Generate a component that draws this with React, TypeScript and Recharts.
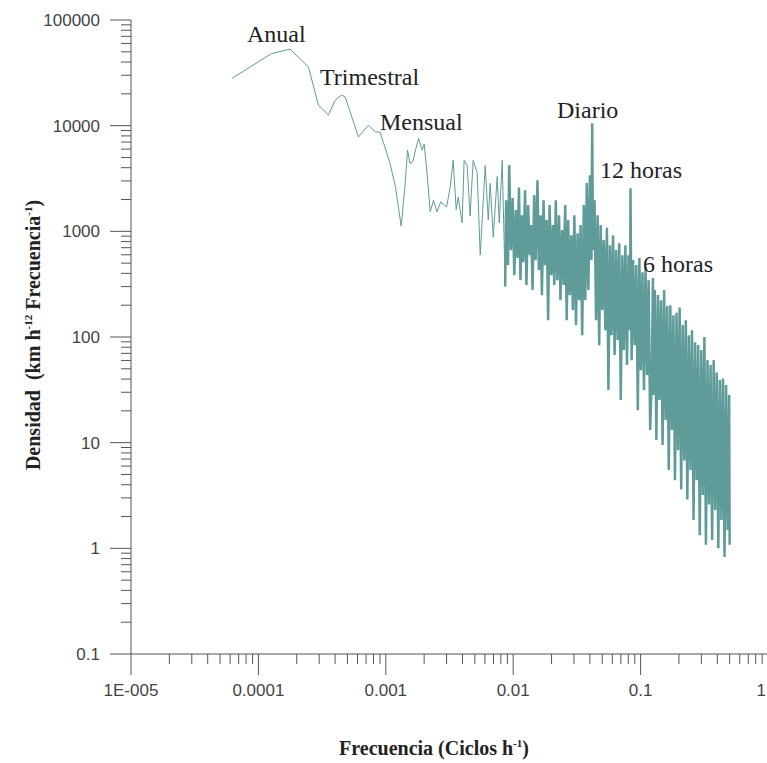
import React from 'react'
import { LineChart, Line, XAxis, YAxis } from 'recharts'

// espectro de baja frecuencia (curva suave)
const LOW_FREQ = [
  6.2e-5, 1.27e-4, 1.77e-4, 2.47e-4, 2.96e-4, 3.55e-4, 4.0e-4, 4.5e-4, 4.8e-4, 6.1e-4,
  7.3e-4, 8.3e-4, 9.0e-4, 1.0e-3, 1.08e-3, 1.19e-3, 1.32e-3, 1.42e-3, 1.48e-3, 1.55e-3,
  1.63e-3, 1.72e-3, 1.81e-3, 1.93e-3, 2.0e-3, 2.08e-3, 2.16e-3, 2.23e-3, 2.37e-3, 2.52e-3,
  2.7e-3, 3.0e-3, 3.2e-3, 3.38e-3, 3.57e-3, 3.7e-3, 3.97e-3, 4.12e-3, 4.35e-3, 4.59e-3,
  4.85e-3, 5.21e-3, 5.51e-3, 6.03e-3, 6.37e-3, 6.6e-3, 6.97e-3, 7.49e-3, 7.77e-3, 8.2e-3,
  8.65e-3,
]
const LOW_DENS = [
  28000, 48200, 53000, 36000, 15600, 12600, 17400, 19500, 18700, 7830,
  10100, 8720, 8700, 5900, 4390, 2640, 1120, 2840, 5860, 4390,
  4560, 6000, 7570, 5860, 6700, 4200, 2460, 1530, 1970, 1530,
  1900, 1700, 2600, 4700, 1600, 2100, 1200, 4700, 4200, 1400,
  4700, 3600, 595, 4200, 1280, 2850, 880, 3300, 1200, 4700,
  300,
]

// parte ruidosa de alta frecuencia
const HIGH_FREQ = [
  0.0088, 0.0091, 0.0093, 0.0096, 0.0099, 0.0102, 0.0105, 0.0108, 0.0111, 0.0114,
  0.0117, 0.012, 0.0124, 0.0127, 0.0131, 0.0135, 0.0138, 0.0142, 0.0146, 0.015,
  0.0155, 0.0159, 0.0164, 0.0168, 0.0173, 0.0178, 0.0183, 0.0188, 0.0193, 0.0199,
  0.0205, 0.021, 0.0216, 0.0222, 0.0229, 0.0235, 0.0242, 0.0249, 0.0256, 0.0263,
  0.027, 0.0278, 0.0286, 0.0294, 0.0302, 0.0311, 0.032, 0.0329, 0.0338, 0.0348,
  0.0358, 0.0368, 0.0378, 0.0389, 0.04, 0.0411, 0.0417, 0.0423, 0.0435, 0.0447,
  0.046, 0.0473, 0.0486, 0.05, 0.0514, 0.0529, 0.0544, 0.0559, 0.0575, 0.0591,
  0.0608, 0.0625, 0.0643, 0.0661, 0.068, 0.0699, 0.0719, 0.0739, 0.076, 0.0782,
  0.0804, 0.0827, 0.0833, 0.085, 0.0874, 0.0899, 0.0925, 0.0951, 0.0978, 0.1005,
  0.1034, 0.1063, 0.1093, 0.1124, 0.1156, 0.1189, 0.1223, 0.125, 0.1258, 0.1293,
  0.133, 0.1368, 0.1407, 0.1447, 0.1488, 0.153, 0.1573, 0.1618, 0.1664, 0.1711,
  0.176, 0.181, 0.1861, 0.1914, 0.1968, 0.2024, 0.2082, 0.2141, 0.2202, 0.2264,
  0.2328, 0.2394, 0.2462, 0.2532, 0.2604, 0.2678, 0.2754, 0.2832, 0.2912, 0.2995,
  0.308, 0.3167, 0.3257, 0.335, 0.3445, 0.3542, 0.3643, 0.3746, 0.3852, 0.3962,
  0.4074, 0.419, 0.4309, 0.4431, 0.4557, 0.4686, 0.4819, 0.4956, 0.5,
]
const HIGH_DENS = [
  1970, 479, 4230, 664, 2070, 385, 1590, 560, 2600, 345,
  1420, 510, 2450, 310, 1770, 595, 1150, 278, 2200, 534,
  3050, 430, 1420, 249, 1970, 479, 1280, 144, 1770, 385,
  1150, 310, 1970, 345, 1420, 223, 1030, 310, 1770, 144,
  1280, 249, 920, 180, 1420, 130, 960, 223, 1150, 104,
  1770, 223, 2860, 278, 3400, 534, 10560, 664, 1970, 144,
  1420, 83.8, 1150, 180, 826, 116, 1080, 31.5, 740, 104,
  920, 67.4, 664, 93.5, 770, 25.3, 595, 75.2, 740, 54.2,
  595, 116, 2560, 60.4, 534, 83.8, 479, 20.3, 560, 48.6,
  410, 31.5, 455, 43.6, 345, 13.2, 39.1, 361, 28.2, 278,
  10.6, 249, 25.3, 223, 9.5, 278, 16.4, 196, 5.5, 200,
  13.2, 161, 4.4, 170, 8.5, 190, 3.6, 130, 6.8, 144,
  2.9, 104, 5.5, 116, 1.85, 89, 4.4, 83.8, 1.33, 75.2,
  3.2, 100, 1.08, 60.4, 2.6, 54.2, 1.2, 60.4, 2.3, 46,
  1.0, 39.1, 1.85, 40.5, 0.83, 35.1, 1.49, 28.2, 1.08,
]

const X_TICKS = [1e-5, 1e-4, 1e-3, 1e-2, 1e-1, 1]
const X_LABELS = ['1E-005', '0.0001', '0.001', '0.01', '0.1', '1']
const Y_TICKS = [0.1, 1, 10, 100, 1000, 10000, 100000]
const Y_LABELS = ['0.1', '1', '10', '100', '1000', '10000', '100000']

const ANNOTATIONS = ['Anual', 'Trimestral', 'Mensual', 'Diario', '12 horas', '6 horas']
const ANNOTATION_POS = [
  [247, 42],
  [320, 85],
  [380, 130],
  [557, 118],
  [600, 178],
  [643, 272],
]

const lowData = LOW_FREQ.map((f, i) => ({ f, v: LOW_DENS[i] }))
const highData = [lowData[lowData.length - 1], ...HIGH_FREQ.map((f, i) => ({ f, v: HIGH_DENS[i] }))]

const withMinor = (majors: number[]) =>
  majors.concat(majors.slice(0, -1).flatMap((t) => [2, 3, 4, 5, 6, 7, 8, 9].map((m) => t * m)))

const X_ALL = withMinor(X_TICKS).sort((a, b) => a - b)
const Y_ALL = withMinor(Y_TICKS).sort((a, b) => a - b)

const AXIS = '#555'
const LINE = '#5f9c99'
const SANS = "'Liberation Sans', Arial, sans-serif"
const SERIF = "'Liberation Serif', 'Times New Roman', serif"

const majorIndex = (ticks: number[], v: number) => ticks.findIndex((t) => Math.abs(v / t - 1) < 1e-6)

function XTick(props: any) {
  const { x, y, payload } = props
  const i = majorIndex(X_TICKS, payload.value)
  const last = i === X_TICKS.length - 1
  return (
    <g>
      <line x1={x} x2={x} y1={y} y2={y + (i >= 0 ? 21 : 10)} stroke={AXIS} />
      {i >= 0 && (
        <text
          x={last ? 766 : x}
          y={y + 42}
          textAnchor={last ? 'end' : 'middle'}
          fill="#444"
          fontSize={17}
          fontFamily={SANS}
        >
          {X_LABELS[i]}
        </text>
      )}
    </g>
  )
}

function YTick(props: any) {
  const { x, y, payload } = props
  const i = majorIndex(Y_TICKS, payload.value)
  return (
    <g>
      <line x1={x - (i >= 0 ? 21 : 10)} x2={x} y1={y} y2={y} stroke={AXIS} />
      {i >= 0 && (
        <text x={x - 31} y={y} dy="0.35em" textAnchor="end" fill="#444" fontSize={17} fontFamily={SANS}>
          {Y_LABELS[i]}
        </text>
      )}
    </g>
  )
}

export default function App() {
  return (
    <div
      style={{
        position: 'fixed',
        left: 0,
        top: 0,
        width: 767,
        height: 763,
        overflow: 'hidden',
        background: '#fff',
      }}
    >
      <LineChart width={800} height={763} margin={{ top: 20, right: 32, bottom: 0, left: 0 }}>
        <XAxis
          dataKey="f"
          type="number"
          scale="log"
          domain={[1e-5, 1]}
          allowDataOverflow
          ticks={X_ALL}
          interval={0}
          height={109}
          tickSize={0}
          tickMargin={0}
          tickLine={false}
          axisLine={{ stroke: AXIS }}
          tick={<XTick />}
        />
        <YAxis
          dataKey="v"
          type="number"
          scale="log"
          domain={[0.1, 100000]}
          allowDataOverflow
          ticks={Y_ALL}
          interval={0}
          width={131}
          tickSize={0}
          tickMargin={0}
          tickLine={false}
          axisLine={{ stroke: AXIS }}
          tick={<YTick />}
        />
        <Line
          data={lowData}
          type="linear"
          dataKey="v"
          stroke={LINE}
          strokeWidth={1}
          dot={false}
          isAnimationActive={false}
        />
        <Line
          data={highData}
          type="linear"
          dataKey="v"
          stroke={LINE}
          strokeWidth={2.5}
          strokeLinejoin="miter"
          strokeMiterlimit={2}
          dot={false}
          isAnimationActive={false}
        />
      </LineChart>
      <svg
        width={767}
        height={763}
        style={{ position: 'absolute', left: 0, top: 0, pointerEvents: 'none' }}
      >
        {ANNOTATIONS.map((t, i) => (
          <text key={t} x={ANNOTATION_POS[i][0]} y={ANNOTATION_POS[i][1]} fontSize={24} fontFamily={SERIF} fill="#222">
            {t}
          </text>
        ))}
        <text x={434} y={755} textAnchor="middle" fontSize={20} fontWeight="bold" fontFamily={SERIF} fill="#222">
          Frecuencia (Ciclos h
          <tspan dy={-8} fontSize={11}>-1</tspan>
          <tspan dy={8}>)</tspan>
        </text>
        <text
          transform="translate(40,335) rotate(-90)"
          textAnchor="middle"
          fontSize={20}
          fontWeight="bold"
          fontFamily={SERIF}
          fill="#222"
        >
          Densidad {'\u00a0'}(km h
          <tspan dy={-8} fontSize={11}>-12</tspan>
          <tspan dy={8}> Frecuencia</tspan>
          <tspan dy={-8} fontSize={11}>-1</tspan>
          <tspan dy={8}>)</tspan>
        </text>
      </svg>
    </div>
  )
}
